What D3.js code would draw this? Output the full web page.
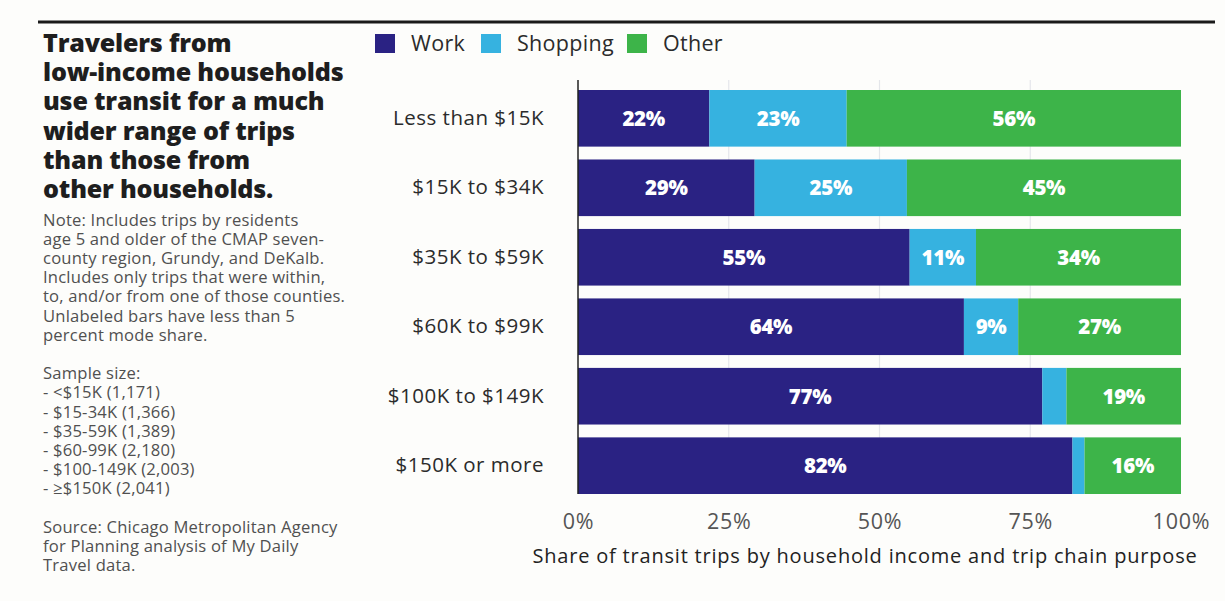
<!DOCTYPE html>
<html>
<head>
<meta charset="utf-8">
<script src="https://cdn.jsdelivr.net/npm/d3@7/dist/d3.min.js"></script>
<style>
  html, body { margin: 0; padding: 0; background: #fdfdfb; }
  svg { display: block; }
</style>
</head>
<body>
<svg id="chart" width="1225" height="601"></svg>
<script>
// Income groups (top to bottom) and share of transit trips by trip chain purpose
const categories = ["Less than $15K", "$15K to $34K", "$35K to $59K", "$60K to $99K", "$100K to $149K", "$150K or more"];
const purposes = ["Work", "Shopping", "Other"];
const work =     [22, 29, 55, 64, 77, 82];
const shopping = [23, 25, 11,  9,  4,  2];
const other =    [56, 45, 34, 27, 19, 16];
const tickLabels = ["0%", "25%", "50%", "75%", "100%"];
const tickValues = [0, 0.25, 0.5, 0.75, 1];

const titleLines = ["Travelers from", "low-income households", "use transit for a much", "wider range of trips", "than those from", "other households."];
const noteLines = [
  "Note: Includes trips by residents",
  "age 5 and older of the CMAP seven-",
  "county region, Grundy, and DeKalb.",
  "Includes only trips that were within,",
  "to, and/or from one of those counties.",
  "Unlabeled bars have less than 5",
  "percent mode share.",
  "",
  "Sample size:",
  "- <$15K (1,171)",
  "- $15-34K (1,366)",
  "- $35-59K (1,389)",
  "- $60-99K (2,180)",
  "- $100-149K (2,003)",
  "- ≥$150K (2,041)",
  "",
  "Source: Chicago Metropolitan Agency",
  "for Planning analysis of My Daily",
  "Travel data."
];
const axisTitle = "Share of transit trips by household income and trip chain purpose";

const colors = { Work: "#2a2283", Shopping: "#36b2e0", Other: "#3db449" };

const rows = categories.map((c, i) => ({ category: c, Work: work[i], Shopping: shopping[i], Other: other[i] }));

const svg = d3.select("#chart");
const bodyFont = "'Open Sans', 'Noto Sans', sans-serif";
const boldFont = "'Open Sans', Lato, sans-serif";

// Top rule
svg.append("line")
  .attr("x1", 38).attr("x2", 1215).attr("y1", 22).attr("y2", 22)
  .attr("stroke", "#1a1a1a").attr("stroke-width", 3);

// Headline
const title = svg.append("text")
  .attr("font-family", boldFont).attr("font-weight", 800)
  .attr("font-size", 25.1).attr("letter-spacing", -0.2).attr("fill", "#1e1e1e");
titleLines.forEach((t, i) => title.append("tspan").attr("x", 43).attr("y", 52 + i * 29.2).text(t));

// Notes, sample size, source
const notes = svg.append("text")
  .attr("font-family", bodyFont).attr("font-weight", 400)
  .attr("font-size", 16.6).attr("letter-spacing", 0.2).attr("fill", "#505050");
noteLines.forEach((t, i) => notes.append("tspan").attr("x", 43).attr("y", 225.5 + i * 19.2).text(t));

// Scales
const margin = { left: 578, right: 1181, top: 90, bottom: 494 };
const x = d3.scaleLinear().domain([0, 1]).range([margin.left, margin.right]);
const y = d3.scaleBand().domain(categories).range([margin.top, margin.bottom]).paddingInner(0.185).paddingOuter(0.0);

// Gridlines
svg.append("g").selectAll("line")
  .data(tickValues.slice(1, 4))
  .join("line")
  .attr("x1", d => x(d)).attr("x2", d => x(d))
  .attr("y1", 80).attr("y2", margin.bottom)
  .attr("stroke", "#e4e6ea").attr("stroke-width", 1.2);

// Stacked, normalised bars
const stack = d3.stack().keys(purposes).offset(d3.stackOffsetExpand);
const series = stack(rows);

const layer = svg.append("g").selectAll("g")
  .data(series)
  .join("g")
  .attr("fill", d => colors[d.key]);

layer.selectAll("rect")
  .data(d => d.map(v => Object.assign(v, { key: d.key })))
  .join("rect")
  .attr("x", d => x(d[0]))
  .attr("y", d => y(d.data.category))
  .attr("width", d => x(d[1]) - x(d[0]))
  .attr("height", y.bandwidth());

// Segment value labels (only for shares of 5% or more)
layer.selectAll("text")
  .data(d => d.filter(v => v.data[d.key] >= 5))
  .join("text")
  .attr("x", d => (x(d[0]) + x(d[1])) / 2)
  .attr("y", d => y(d.data.category) + y.bandwidth() / 2)
  .attr("dy", "0.36em")
  .attr("text-anchor", "middle")
  .attr("font-family", boldFont).attr("font-weight", 800)
  .attr("font-size", 20.5).attr("letter-spacing", -0.3).attr("fill", "#ffffff")
  .text(d => d.data[d.key] + "%");

// Zero baseline
svg.append("line")
  .attr("x1", x(0)).attr("x2", x(0))
  .attr("y1", 80).attr("y2", margin.bottom)
  .attr("stroke", "#222").attr("stroke-width", 1.5);

// Category axis
const yAxis = svg.append("g")
  .attr("transform", `translate(${x(0) - 34},0)`)
  .call(d3.axisLeft(y).tickSize(0).tickPadding(0));
yAxis.select(".domain").remove();
yAxis.selectAll("text")
  .attr("font-family", bodyFont).attr("font-size", 20.5).attr("letter-spacing", 0.5).attr("fill", "#2b2b2b");

// Percentage axis
const xAxis = svg.append("g")
  .attr("transform", `translate(0,${margin.bottom})`)
  .call(d3.axisBottom(x).tickValues(tickValues).tickFormat((d, i) => tickLabels[i]).tickSize(0).tickPadding(20));
xAxis.select(".domain").remove();
xAxis.selectAll("text")
  .attr("font-family", bodyFont).attr("font-size", 21.5).attr("letter-spacing", 0.8).attr("fill", "#555");

svg.append("text")
  .attr("x", 865).attr("y", 563)
  .attr("text-anchor", "middle")
  .attr("font-family", bodyFont).attr("font-size", 20).attr("letter-spacing", 0.8).attr("fill", "#222")
  .text(axisTitle);

// Legend
const legendX = [375, 481, 627];
const legend = svg.append("g").selectAll("g")
  .data(purposes)
  .join("g")
  .attr("transform", (d, i) => `translate(${legendX[i]},34)`);
legend.append("rect").attr("width", 20).attr("height", 19).attr("fill", d => colors[d]);
legend.append("text")
  .attr("x", 36).attr("y", 9.5).attr("dy", "0.36em")
  .attr("font-family", bodyFont).attr("font-size", 21.5).attr("letter-spacing", 0.3).attr("fill", "#2b2b2b")
  .text(d => d);
</script>
</body>
</html>
